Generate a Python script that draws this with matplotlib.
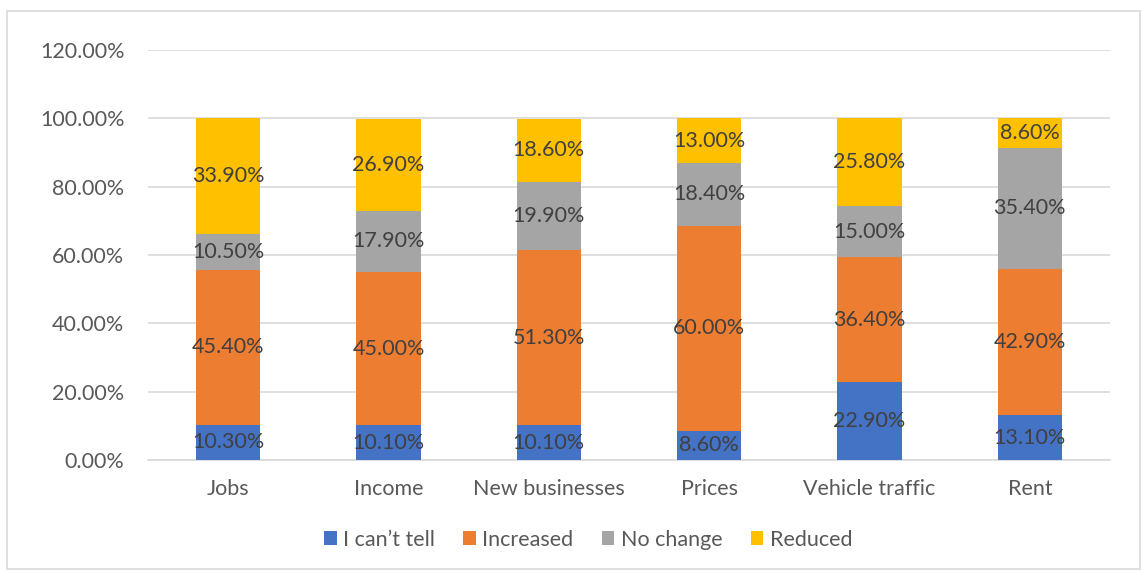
import matplotlib
matplotlib.use("Agg")
import matplotlib.pyplot as plt
from matplotlib.patches import Rectangle
from matplotlib.ticker import FuncFormatter
import numpy as np

CATEGORIES = ["Jobs", "Income", "New businesses", "Prices", "Vehicle traffic", "Rent"]
CANT_TELL = [10.3, 10.1, 10.1, 8.6, 22.9, 13.1]
INCREASED = [45.4, 45.0, 51.3, 60.0, 36.4, 42.9]
NO_CHANGE = [10.5, 17.9, 19.9, 18.4, 15.0, 35.4]
REDUCED = [33.9, 26.9, 18.6, 13.0, 25.8, 8.6]

SERIES = [
    ("I can\u2019t tell", CANT_TELL, "#4472C4"),
    ("Increased", INCREASED, "#ED7D31"),
    ("No change", NO_CHANGE, "#A5A5A5"),
    ("Reduced", REDUCED, "#FFC000"),
]

plt.rcParams["font.family"] = ["Lato", "DejaVu Sans"]

fig = plt.figure(figsize=(11.42, 5.71), dpi=100)
ax = fig.add_axes([0.1296, 0.1944, 0.8424, 0.718])

# outer chart border
fig.patches.append(Rectangle((0.006, 0.004), 0.992, 0.976, transform=fig.transFigure,
                             fill=False, edgecolor="#d9d9d9", linewidth=1.2))

x = np.arange(len(CATEGORIES))
bottom = np.zeros(len(CATEGORIES))
handles = []
for label, values, color in SERIES:
    values = np.array(values)
    bars = ax.bar(x, values, 0.4, bottom=bottom, color=color, label=label, zorder=3)
    handles.append(bars)
    for xi, b, v in zip(x, bottom, values):
        ax.text(xi, b + v / 2, f"{v:.2f}%", ha="center", va="center",
                fontsize=15.5, color="#404040", zorder=4)
    bottom += values

ax.set_xlim(-0.5, len(CATEGORIES) - 0.5)
ax.set_ylim(0, 120)
ax.set_yticks(np.arange(0, 121, 20))
ax.yaxis.set_major_formatter(FuncFormatter(lambda v, _: f"{v:.2f}%"))
ax.set_xticks(x)
ax.set_xticklabels(CATEGORIES)
ax.tick_params(axis="both", length=0, labelsize=15.5, labelcolor="#595959")
ax.tick_params(axis="y", pad=17)
ax.tick_params(axis="x", pad=14)
ax.grid(axis="y", color="#d9d9d9", linewidth=1.2, zorder=0)
for side in ["top", "right", "left"]:
    ax.spines[side].set_visible(False)
ax.spines["bottom"].set_color("#d9d9d9")
ax.spines["bottom"].set_linewidth(1.2)

fig.legend(handles=handles, loc="center", bbox_to_anchor=(0.515, 0.055), ncol=4,
           frameon=False, fontsize=15.5, labelcolor="#595959",
           handlelength=0.6, handleheight=0.6, handletextpad=0.3, columnspacing=1.3)

fig.savefig("out.png", dpi=100)
